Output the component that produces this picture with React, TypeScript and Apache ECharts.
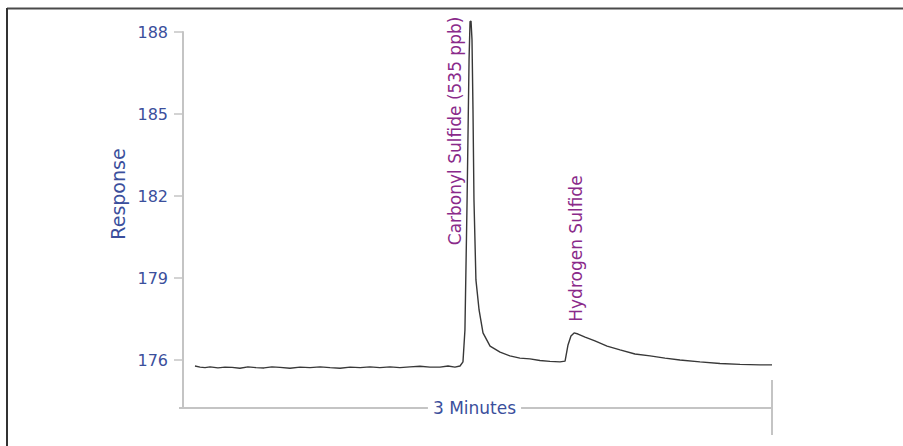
import React, { useEffect, useRef } from "react";
import * as echarts from "echarts";

// time in minutes (0..3 span of the axis)
const times: number[] = [
  0.061, 0.087, 0.112, 0.138, 0.178, 0.214, 0.25, 0.29, 0.331, 0.372, 0.413, 0.453, 0.494,
  0.545, 0.596, 0.647, 0.698, 0.749, 0.8, 0.851, 0.902, 0.952, 1.003, 1.054, 1.105, 1.156,
  1.207, 1.258, 1.309, 1.35, 1.385, 1.411, 1.426, 1.436, 1.447, 1.457, 1.462, 1.467, 1.472,
  1.477, 1.482, 1.492, 1.508, 1.528, 1.564, 1.615, 1.665, 1.716, 1.767, 1.818, 1.869, 1.92,
  1.946, 1.961, 1.976, 1.992, 2.012, 2.048, 2.098, 2.16, 2.226, 2.302, 2.379, 2.455, 2.531,
  2.633, 2.735, 2.837, 2.939, 3.0,
];
const response: number[] = [
  175.78, 175.74, 175.72, 175.75, 175.71, 175.74, 175.73, 175.7, 175.75, 175.72, 175.71,
  175.75, 175.73, 175.7, 175.74, 175.72, 175.75, 175.72, 175.7, 175.74, 175.72, 175.75,
  175.72, 175.75, 175.72, 175.75, 175.77, 175.74, 175.74, 175.78, 175.74, 175.78, 175.93,
  177.1, 181.86, 186.99, 188.38, 188.4, 187.72, 185.16, 181.86, 178.93, 177.83, 176.99,
  176.51, 176.29, 176.15, 176.07, 176.04, 175.98, 175.95, 175.93, 175.96, 176.55, 176.88,
  176.99, 176.95, 176.84, 176.7, 176.51, 176.37, 176.22, 176.15, 176.07, 176.0, 175.93,
  175.87, 175.84, 175.82, 175.82,
];
const yTicks: number[] = [176, 179, 182, 185, 188];
const peakNames: string[] = ["Carbonyl Sulfide (535 ppb)", "Hydrogen Sulfide"];
const peakLabelAt: [number, number][] = [
  [1.385, 180.2],
  [2.0, 177.4],
];
const xName = "3 Minutes";
const yName = "Response";

const BLUE = "#3b4f9c";
const PURPLE = "#8a2a8a";
const AXIS = "#c4c4c4";
const FONT = "DejaVu Sans, Verdana, sans-serif";
const Y_MIN = 174.244;
const Y_MAX = 188;

export default function App() {
  const ref = useRef<HTMLDivElement>(null);
  useEffect(() => {
    if (!ref.current) return;
    const chart = echarts.init(ref.current, undefined, { renderer: "svg" });
    const data = times.map((t, i) => [t, response[i]]);
    chart.setOption({
      animation: false,
      backgroundColor: "#ffffff",
      grid: { left: 183, right: 131, top: 32, bottom: 38 },
      xAxis: {
        type: "value",
        min: 0,
        max: 3,
        axisLine: { show: true, lineStyle: { color: AXIS, width: 2 } },
        axisTick: { show: false },
        axisLabel: { show: false },
        splitLine: { show: false },
      },
      yAxis: {
        type: "value",
        min: Y_MIN,
        max: Y_MAX,
        axisLine: { show: true, lineStyle: { color: AXIS, width: 2 } },
        axisTick: {
          show: true,
          customValues: yTicks,
          length: 9,
          lineStyle: { color: AXIS, width: 1.5 },
        },
        axisLabel: {
          customValues: yTicks,
          color: BLUE,
          fontSize: 16,
          fontFamily: FONT,
          margin: 15,
        },
        splitLine: { show: false },
      },
      series: [
        {
          type: "line",
          data,
          clip: false,
          showSymbol: false,
          symbol: "none",
          lineStyle: { color: "#383838", width: 1.4 },
          markPoint: {
            symbol: "circle",
            symbolSize: 0,
            data: peakNames.map((n, i) => ({
              coord: peakLabelAt[i],
              value: n,
              label: {
                show: true,
                formatter: n,
                rotate: 90,
                position: "inside",
                align: "left",
                verticalAlign: "middle",
                color: PURPLE,
                fontSize: 17,
                fontFamily: FONT,
              },
            })),
          },
        },
      ],
    });
    const p0 = chart.convertToPixel({ gridIndex: 0 }, [3, Y_MIN]) as number[];
    const pm = chart.convertToPixel({ gridIndex: 0 }, [1.5, Y_MIN]) as number[];
    const pr = chart.convertToPixel({ gridIndex: 0 }, [0, 182]) as number[];
    chart.setOption({
      graphic: [
        {
          type: "line",
          shape: { x1: 7, y1: 8.5, x2: 903, y2: 8.5 },
          style: { stroke: "#4a4a4a", lineWidth: 2 },
        },
        {
          type: "line",
          shape: { x1: 7, y1: 8, x2: 7, y2: 446 },
          style: { stroke: "#333333", lineWidth: 2 },
        },
        {
          type: "line",
          shape: { x1: p0[0], y1: p0[1] - 28, x2: p0[0], y2: p0[1] + 27 },
          style: { stroke: AXIS, lineWidth: 2 },
        },
        {
          type: "line",
          shape: { x1: 179, y1: p0[1], x2: 184, y2: p0[1] },
          style: { stroke: AXIS, lineWidth: 2 },
        },
        {
          type: "text",
          x: pm[0] - 3,
          y: pm[1],
          z: 100,
          style: {
            text: xName,
            fill: BLUE,
            fontSize: 17,
            fontFamily: FONT,
            align: "center",
            verticalAlign: "middle",
            backgroundColor: "#ffffff",
            padding: [2, 5],
          },
        },
        {
          type: "text",
          x: pr[0] - 65,
          y: pr[1] - 2,
          rotation: Math.PI / 2,
          style: {
            text: yName,
            fill: BLUE,
            fontSize: 19,
            fontFamily: FONT,
            align: "center",
            verticalAlign: "middle",
          },
        },
      ],
    });
    return () => chart.dispose();
  }, []);
  return (
    <div
      ref={ref}
      style={{ position: "fixed", left: 0, top: 0, width: 903, height: 446 }}
    />
  );
}
